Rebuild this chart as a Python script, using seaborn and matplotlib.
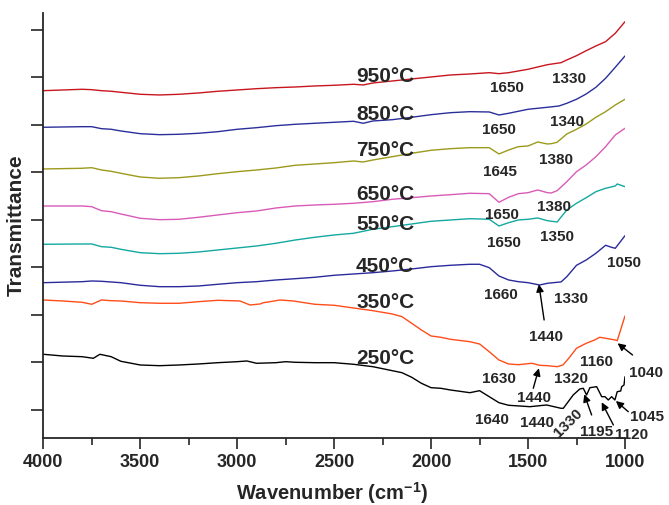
import numpy as np
import pandas as pd
import seaborn as sns
import matplotlib.pyplot as plt
from matplotlib.ticker import MultipleLocator

# ---------------- data (transmittance, arbitrary offset units) ----------------
w_950 = [4000, 3900, 3800, 3750, 3700, 3650, 3600, 3500, 3400, 3300, 3200, 3100, 3000, 2900, 2800, 2700,
         2600, 2500, 2400, 2350, 2300, 2200, 2100, 2000, 1900, 1800, 1700, 1650, 1600, 1500, 1400, 1330,
         1300, 1250, 1200, 1150, 1100, 1050, 1000]
t_950 = [347.6, 348.3, 349, 348.6, 347.6, 347, 346, 344, 343.3, 344, 345.3, 347, 348.3, 349.6, 350.6, 351.3,
         352.3, 353, 354, 353.3, 355.3, 357.3, 359.3, 361.3, 363.3, 364.3, 365.6, 364.6, 365.6, 369, 373.6, 375.6,
         378.3, 382.6, 387.6, 392.3, 396.6, 405, 416.6]

w_850 = [4000, 3800, 3750, 3700, 3650, 3600, 3500, 3400, 3300, 3200, 3100, 3000, 2900, 2800, 2700, 2600,
         2500, 2400, 2350, 2300, 2200, 2100, 2000, 1900, 1800, 1700, 1650, 1600, 1500, 1400, 1340, 1300,
         1250, 1200, 1150, 1100, 1050, 1000]
t_850 = [311, 311.6, 311.6, 309.6, 309, 307.3, 304.6, 303.6, 304, 305, 306.6, 309, 310.6, 312.6, 314, 315,
         316, 317, 315, 317.3, 318.6, 321, 323.6, 325.6, 326.6, 326.3, 323.3, 325, 329, 331, 332.3, 335,
         339, 344.3, 351, 360, 371, 382.3]

w_750 = [4000, 3800, 3750, 3700, 3650, 3600, 3500, 3400, 3300, 3200, 3100, 3000, 2900, 2800, 2700, 2600,
         2500, 2400, 2350, 2300, 2200, 2100, 2000, 1900, 1800, 1700, 1650, 1600, 1550, 1500, 1450, 1400,
         1380, 1350, 1300, 1250, 1200, 1150, 1100, 1050, 1000]
t_750 = [269.3, 270, 270.6, 268.3, 267, 265, 261.3, 260, 260.6, 262.3, 264.6, 266.6, 268.3, 270.3, 273, 274.3,
         275.6, 277.3, 276.3, 278.3, 281.6, 285, 288, 289.6, 290.6, 290.6, 284.3, 288.3, 291.6, 292.3, 296.3, 294.3,
         294.6, 296, 304.3, 309, 314.3, 321, 326.6, 333.3, 339]

w_650 = [4000, 3800, 3750, 3700, 3650, 3600, 3500, 3400, 3300, 3200, 3100, 3000, 2900, 2800, 2700, 2600,
         2500, 2400, 2300, 2200, 2100, 2000, 1900, 1800, 1700, 1650, 1600, 1550, 1500, 1450, 1400, 1380,
         1350, 1300, 1250, 1200, 1150, 1100, 1050, 1000]
t_650 = [232.3, 232.3, 231.6, 227.6, 226.6, 224.3, 220, 218.6, 219, 221, 223.3, 225.6, 227.3, 230.3, 232.3, 233.3,
         234, 235, 236.6, 239, 240.6, 242.3, 243.6, 245, 244.6, 236, 241, 244.6, 245.6, 248.3, 245.6, 245.3,
         247.6, 256.6, 266.6, 273.3, 281.6, 291.6, 303.3, 310]

w_550 = [4000, 3800, 3750, 3700, 3650, 3600, 3500, 3400, 3300, 3200, 3100, 3000, 2900, 2800, 2700, 2600,
         2500, 2400, 2300, 2200, 2100, 2000, 1900, 1800, 1700, 1650, 1600, 1550, 1500, 1450, 1400, 1350,
         1300, 1250, 1200, 1150, 1100, 1050, 1040, 1000]
t_550 = [194, 194.3, 194.3, 191.6, 191, 189, 185.6, 184.6, 185, 186.3, 188.3, 190.3, 192.3, 195, 198.3, 201,
         203.3, 205, 209, 211.6, 214.3, 217, 218.3, 219.6, 219, 212.3, 215.6, 218.3, 219, 220.3, 217.6, 216.3,
         228.3, 235, 240.6, 246.6, 250, 252.3, 254.3, 251.6]

w_450 = [4000, 3800, 3750, 3700, 3650, 3600, 3500, 3400, 3300, 3200, 3100, 3000, 2900, 2800, 2700, 2600,
         2500, 2400, 2300, 2200, 2100, 2000, 1900, 1800, 1750, 1700, 1650, 1600, 1550, 1500, 1440, 1400,
         1350, 1330, 1300, 1250, 1200, 1150, 1100, 1070, 1050, 1030, 1000]
t_450 = [155.6, 156.6, 157.3, 157, 156.3, 155.6, 153, 151.6, 151.6, 152.3, 154, 155.6, 156.6, 158.3, 159.6, 161,
         163, 164.3, 165.6, 167.3, 169.3, 171.6, 173, 174, 174, 170.6, 162.3, 158.3, 156.6, 155.6, 153.3, 155,
         156, 156.3, 161.6, 173, 178.3, 185, 193, 191, 190, 195, 202.6]

w_350 = [4000, 3900, 3800, 3750, 3720, 3700, 3650, 3600, 3500, 3400, 3300, 3200, 3100, 2986, 2934, 2882,
         2865, 2831, 2779, 2710, 2600, 2500, 2400, 2300, 2200, 2150, 2100, 2050, 2000, 1950, 1900, 1800,
         1750, 1700, 1650, 1600, 1550, 1480, 1440, 1400, 1350, 1320, 1290, 1250, 1200, 1160, 1130, 1100,
         1050, 1040, 1000]
t_350 = [138.3, 137.3, 136, 134, 136.6, 138.3, 137.6, 137.3, 135.6, 135, 135, 136.6, 138, 137.3, 133.3, 134.3,
         135.6, 136.6, 138.3, 137.3, 134, 133, 130.3, 127.6, 124.3, 121.6, 115, 108.3, 102.3, 101, 99, 96.6,
         94.3, 86.6, 78.3, 74.3, 73.6, 75, 73, 72.6, 71.6, 73.3, 80, 90, 95, 98, 101, 100,
         98.3, 97.6, 122.3]

w_250 = [4000, 3900, 3800, 3742, 3708, 3650, 3600, 3500, 3400, 3300, 3200, 3100, 3000, 2950, 2900, 2800,
         2750, 2700, 2600, 2500, 2400, 2300, 2200, 2150, 2100, 2050, 2000, 1950, 1900, 1800, 1750, 1700,
         1650, 1600, 1490, 1440, 1404, 1330, 1318, 1267, 1233, 1215, 1198, 1181, 1146, 1120, 1103, 1086,
         1069, 1052, 1040, 1022, 1017, 1005, 1000]
t_250 = [84, 82.3, 81.6, 80, 84, 81.6, 77, 73.3, 72.6, 73.3, 74.3, 75.6, 76.6, 77.3, 75, 75.6,
         76.6, 76, 75.6, 75.6, 74, 71.6, 67.6, 65.6, 61, 55, 50.6, 50, 48.3, 45.6, 47.6, 41.6,
         35.6, 33, 31.6, 32.6, 33.3, 30, 30, 43.3, 49.3, 50, 43.3, 50.6, 51.6, 41.6, 41.6, 38.3,
         41.6, 38.3, 46.6, 47.3, 51.6, 53.3, 61.6]

temperatures = ["950°C", "850°C", "750°C", "650°C", "550°C", "450°C", "350°C", "250°C"]
series_w = [w_950, w_850, w_750, w_650, w_550, w_450, w_350, w_250]
series_t = [t_950, t_850, t_750, t_650, t_550, t_450, t_350, t_250]
colors = ["#c8161e", "#2b2f9a", "#9c9a1c", "#d95bb8", "#14a8a0", "#2a2a9c", "#ff4d1a", "#000000"]
temp_label_y = [356.6, 318.3, 282.3, 238.3, 208.3, 166.6, 130.0, 74.0]
temp_label_x = 2387

# peak labels
peak_text = ["1650", "1330", "1650", "1340", "1645", "1380", "1650", "1380", "1650", "1350",
             "1660", "1330", "1050", "1440", "1160", "1630", "1320", "1440", "1640", "1440",
             "1195", "1120", "1045", "1040"]
peak_x = [1610, 1289, 1652, 1301, 1643, 1358, 1633, 1368, 1624, 1349,
          1640, 1280, 1004, 1408, 1146, 1650, 1280, 1468, 1684, 1452,
          1146, 964, 885, 890]
peak_y = [346.6, 355.6, 304, 312.6, 262.6, 274, 219, 227.3, 191.6, 197.3,
          139.6, 135.6, 171.6, 97.3, 72.3, 55.6, 55.6, 36.3, 14, 11.6,
          2.3, -0.7, 17.3, 61.6]
rot_text, rot_x, rot_y = "1330", 1292, 15

# arrows: tail -> head
arrow_tail_x = [1417, 1473, 961, 1172, 1060, 983]
arrow_tail_y = [118.3, 50, 83.3, 23.3, 13.3, 26.6]
arrow_head_x = [1444, 1444, 1038, 1210, 1120, 1047]
arrow_head_y = [154, 70, 95, 44, 36, 37.3]

x_ticks = [4000, 3500, 3000, 2500, 2000, 1500, 1000]

# ---------------- plotting ----------------
sns.set_style("ticks")
plt.rcParams['font.family'] = ['Liberation Sans', 'DejaVu Sans']
plt.rcParams['font.weight'] = 'bold'
plt.rcParams['mathtext.fontset'] = 'custom'
plt.rcParams['mathtext.rm'] = 'Liberation Sans:bold'
plt.rcParams['mathtext.bf'] = 'Liberation Sans:bold'
plt.rcParams['mathtext.default'] = 'bf'

fig = plt.figure(figsize=(6.69, 5.05), dpi=100)
ax = fig.add_axes([0.0647, 0.1321, 0.8695, 0.8428])

for name, w, t, c in zip(temperatures, series_w, series_t, colors):
    df = pd.DataFrame({"Wavenumber": w, "Transmittance": t})
    sns.lineplot(data=df, x="Wavenumber", y="Transmittance", color=c, lw=1.0,
                 ax=ax, estimator=None, sort=False, legend=False)

for name, y in zip(temperatures, temp_label_y):
    ax.text(temp_label_x, y, name, fontsize=15, fontweight='bold', ha='left', va='baseline')

for s, x, y in zip(peak_text, peak_x, peak_y):
    ax.text(x, y, s, fontsize=11, fontweight='bold', ha='center', va='baseline', clip_on=False)
ax.text(rot_x, rot_y, rot_text, fontsize=11, fontweight='bold', ha='center', va='center',
        rotation=45, rotation_mode='anchor', clip_on=False)

for tx, ty, hx, hy in zip(arrow_tail_x, arrow_tail_y, arrow_head_x, arrow_head_y):
    ax.annotate("", xy=(hx, hy), xytext=(tx, ty), annotation_clip=False,
                arrowprops=dict(arrowstyle='-|>', color='black', lw=1.0,
                                mutation_scale=11, shrinkA=0, shrinkB=0))

ax.set_xlim(4000, 1000)
ax.set_ylim(0, 425.6)
ax.set_xticks(x_ticks)
ax.set_xticklabels([str(v) for v in x_ticks])
ax.xaxis.set_minor_locator(MultipleLocator(250))
ax.set_yticks([28.3 + 47.5 * k for k in range(9)])
ax.set_yticklabels([])
ax.tick_params(axis='x', which='major', length=8, width=1.2, direction='out', labelsize=13, pad=3)
ax.tick_params(axis='x', which='minor', length=5, width=1.2, direction='out')
ax.tick_params(axis='y', which='major', length=9, width=1.2, direction='out')
for lab in ax.get_xticklabels():
    lab.set_fontweight('bold')

for sp in ['top', 'right']:
    ax.spines[sp].set_visible(False)
for sp in ['left', 'bottom']:
    ax.spines[sp].set_linewidth(1.3)

ax.set_xlabel(r"Wavenumber (cm$^{-1}$)", fontsize=14.5, fontweight='bold')
ax.set_ylabel("Transmittance", fontsize=15, fontweight='bold')
ax.xaxis.set_label_coords(0.497, -0.098)
ax.yaxis.set_label_coords(-0.031, 0.50)

fig.savefig("out.png", dpi=100)
